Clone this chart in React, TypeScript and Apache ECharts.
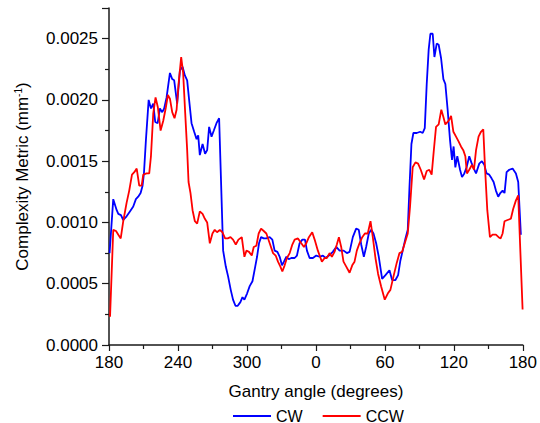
import React, { useEffect, useRef } from "react";
import * as echarts from "echarts";

// Gantry angle unwrapped: 180 -> 360 (=0) -> 540 (=180)
const xTickLabels = ["180", "240", "300", "0", "60", "120", "180"];
const seriesNames = ["CW", "CCW"];

const cwAngle = [
  180.5, 183.7, 186.7, 188.1, 190.4, 192.4, 195.3, 198.2, 201.1, 203.4, 205.4, 207.5, 209.2, 210.4, 212.1,
  214.5, 216.5, 218.5, 220.2, 222.3, 224.3, 226.3, 228.0, 230.1, 233.0, 235.0, 236.7, 239.3, 241.7, 244.0,
  246.0, 248.0, 249.7, 251.8, 254.1, 256.2, 257.6, 259.0, 261.4, 263.6, 265.4, 267.1, 269.2, 271.2, 273.5,
  275.8, 279.3, 281.6, 283.6, 285.9, 287.9, 290.0, 292.0, 294.3, 296.1, 297.8, 300.1, 302.4, 304.8, 307.0,
  308.8, 310.5, 312.3, 314.6, 316.9, 319.8, 322.1, 324.1, 326.5, 328.5, 330.5, 332.2, 334.3, 336.3, 338.6,
  341.5, 343.5, 345.8, 348.2, 350.5, 352.2, 354.5, 357.4, 360.3, 363.2, 366.1, 368.4, 371.3, 374.7, 377.7,
  380.6, 384.1, 386.9, 389.3, 392.1, 395.0, 397.3, 399.4, 401.7, 403.7, 406.0, 408.1, 410.1, 412.4, 414.7,
  417.6, 420.5, 424.0, 426.3, 429.2, 431.5, 433.5, 435.5, 437.9, 439.9, 441.4, 443.1, 444.8, 447.7, 450.7,
  452.9, 454.7, 456.4, 458.1, 459.6, 461.6, 463.1, 465.1, 466.8, 468.9, 470.9, 472.6, 474.6, 476.7, 478.4,
  479.8, 481.3, 483.0, 485.4, 487.1, 489.1, 491.1, 493.4, 495.2, 496.9, 499.3, 502.1, 504.4, 506.5, 508.5,
  510.8, 512.8, 514.6, 516.6, 518.6, 520.4, 522.4, 524.1, 525.9, 528.2, 531.1, 534.0, 536.0, 537.5, 538.3,
];
const cwValue = [
  0.00075, 0.00119, 0.0011, 0.00107, 0.00106, 0.00102, 0.00105, 0.00109, 0.00113, 0.00119, 0.00121, 0.00124, 0.0013, 0.0014, 0.00167,
  0.002, 0.00193, 0.00197, 0.00182, 0.00181, 0.00193, 0.0019, 0.00193, 0.00202, 0.00222, 0.00217, 0.00216, 0.00197, 0.00224, 0.00227,
  0.0022, 0.00216, 0.002, 0.00181, 0.00174, 0.00168, 0.00171, 0.00155, 0.00164, 0.00156, 0.00159, 0.00178, 0.0017, 0.00175, 0.00181,
  0.00185, 0.00077, 0.00064, 0.00056, 0.00045, 0.00037, 0.00032, 0.00032, 0.00035, 0.00039, 0.00037, 0.00042, 0.00048, 0.00052, 0.00063,
  0.00072, 0.00083, 0.00088, 0.00087, 0.00087, 0.00088, 0.00086, 0.00077, 0.00076, 0.00072, 0.00065, 0.00068, 0.00072, 0.0007, 0.00071,
  0.00071, 0.00073, 0.00083, 0.00086, 0.00086, 0.00077, 0.00071, 0.00071, 0.00073, 0.00072, 0.00073, 0.00071, 0.00073, 0.00076, 0.0008,
  0.00077, 0.00077, 0.00075, 0.00076, 0.00088, 0.00095, 0.00094, 0.00082, 0.00072, 0.0008, 0.00091, 0.00094, 0.00091, 0.00083, 0.00072,
  0.00054, 0.00057, 0.00061, 0.00053, 0.00053, 0.00057, 0.00069, 0.00077, 0.00087, 0.00094, 0.00129, 0.00164, 0.00173, 0.00173, 0.00174,
  0.00173, 0.00177, 0.00213, 0.00241, 0.00254, 0.00254, 0.00235, 0.00246, 0.00245, 0.00234, 0.00217, 0.00213, 0.00192, 0.00167, 0.00151,
  0.00162, 0.00145, 0.00154, 0.00143, 0.00137, 0.0014, 0.00145, 0.00154, 0.00149, 0.00145, 0.0014, 0.00148, 0.0015, 0.00147, 0.0014,
  0.00139, 0.00136, 0.00133, 0.00126, 0.00121, 0.00124, 0.00126, 0.00124, 0.00141, 0.00143, 0.00144, 0.0014, 0.00133, 0.00105, 0.0009,
];

const ccwAngle = [
  180.9, 183.7, 186.1, 188.1, 190.2, 192.4, 195.3, 197.6, 200.0, 202.0, 204.1, 206.3, 208.4, 209.8, 212.7,
  215.0, 216.5, 218.5, 220.5, 222.5, 224.9, 227.2, 229.5, 231.2, 233.0, 235.0, 237.0, 238.8, 240.5, 242.8,
  244.5, 246.3, 248.0, 249.2, 250.9, 252.7, 254.7, 256.7, 259.0, 261.4, 263.4, 265.4, 267.7, 270.0, 272.0,
  274.0, 276.4, 278.7, 281.0, 283.3, 285.7, 287.9, 290.3, 292.6, 295.5, 297.8, 299.6, 301.8, 304.2, 305.9,
  308.2, 310.2, 312.3, 314.6, 316.9, 319.8, 322.7, 325.0, 327.0, 329.1, 330.8, 332.8, 334.8, 337.2, 339.5,
  341.5, 344.4, 347.3, 349.6, 351.6, 353.9, 356.8, 358.9, 361.7, 365.2, 367.6, 369.5, 371.9, 373.9, 376.2,
  378.2, 380.0, 382.0, 384.0, 386.4, 389.3, 391.6, 393.6, 395.6, 397.9, 400.3, 402.6, 405.1, 407.5, 409.5,
  411.8, 414.1, 416.7, 419.9, 422.5, 424.8, 427.5, 430.3, 432.7, 435.0, 437.3, 439.9, 441.9, 444.2, 446.6,
  448.9, 451.2, 454.1, 456.4, 458.7, 460.7, 462.5, 464.5, 466.8, 469.1, 470.9, 472.6, 474.6, 476.1, 477.6,
  479.6, 481.9, 484.2, 486.2, 488.2, 490.0, 491.4, 493.4, 495.7, 497.5, 499.3, 501.5, 503.6, 505.6, 507.1,
  509.1, 511.4, 513.7, 516.6, 518.9, 520.7, 522.4, 524.1, 526.7, 529.6, 531.6, 534.0, 536.0, 539.8,
];
const ccwValue = [
  0.00023, 0.00094, 0.00093, 0.0009, 0.00087, 0.00101, 0.00116, 0.00126, 0.00139, 0.00141, 0.00144, 0.0013, 0.0013, 0.00139, 0.0014,
  0.0014, 0.00154, 0.00189, 0.00202, 0.00194, 0.00175, 0.00183, 0.00194, 0.00204, 0.00201, 0.0019, 0.00185, 0.00192, 0.00213, 0.00235,
  0.00222, 0.00189, 0.00159, 0.00133, 0.00124, 0.0011, 0.00101, 0.00099, 0.00109, 0.00107, 0.00103, 0.001, 0.00083, 0.00091, 0.00094,
  0.00092, 0.00094, 0.00092, 0.00087, 0.00087, 0.00088, 0.00086, 0.00082, 0.00086, 0.00088, 0.00072, 0.00077, 0.00076, 0.00073, 0.0008,
  0.00081, 0.00091, 0.00095, 0.00093, 0.00091, 0.00083, 0.00075, 0.00073, 0.00068, 0.00064, 0.0006, 0.00065, 0.00071, 0.00075, 0.00082,
  0.00086, 0.00087, 0.00083, 0.0008, 0.00083, 0.00088, 0.00092, 0.00086, 0.00077, 0.00068, 0.00071, 0.00071, 0.00075, 0.00072, 0.00076,
  0.00082, 0.00088, 0.0008, 0.00068, 0.00064, 0.00059, 0.00065, 0.00068, 0.00077, 0.00083, 0.00088, 0.00091, 0.00091, 0.00101, 0.00088,
  0.00071, 0.00058, 0.00048, 0.00037, 0.00042, 0.00045, 0.00056, 0.00067, 0.00075, 0.00076, 0.00083, 0.00091, 0.00113, 0.00145, 0.00149,
  0.00148, 0.00143, 0.00135, 0.00142, 0.00143, 0.00139, 0.00158, 0.00178, 0.0018, 0.00192, 0.00186, 0.0018, 0.00182, 0.00184, 0.00187,
  0.00174, 0.0017, 0.00166, 0.00162, 0.00159, 0.00154, 0.0014, 0.00143, 0.00147, 0.00143, 0.00159, 0.0017, 0.00174, 0.00176, 0.00145,
  0.0011, 0.00088, 0.0009, 0.0009, 0.00088, 0.00087, 0.00091, 0.00101, 0.00102, 0.00103, 0.00111, 0.00118, 0.00122, 0.00029,
];

const FONT = "'Liberation Sans', Arial, sans-serif";

export default function App() {
  const ref = useRef<HTMLDivElement>(null);
  useEffect(() => {
    if (!ref.current) return;
    const chart = echarts.init(ref.current, null, { renderer: "svg" });
    const cwData = cwAngle.map((a, i) => [a, cwValue[i]]);
    const ccwData = ccwAngle.map((a, i) => [a, ccwValue[i]]);
    const axisColor = "#1a1a1a";
    chart.setOption({
      animation: false,
      textStyle: { fontFamily: FONT },
      grid: { left: 109, right: 17, top: 8, bottom: 78 },
      legend: {
        data: seriesNames,
        left: 228,
        top: 403,
        icon: "rect",
        itemWidth: 38,
        itemHeight: 2,
        itemGap: 20,
        textStyle: { fontSize: 16, color: "#000", fontFamily: FONT },
      },
      xAxis: {
        type: "value",
        min: 180,
        max: 540,
        interval: 60,
        name: "Gantry angle (degrees)",
        nameLocation: "middle",
        nameGap: 38,
        nameTextStyle: { fontSize: 17, color: "#000", fontFamily: FONT },
        axisLine: { lineStyle: { color: axisColor, width: 1.5 } },
        axisTick: { show: true, length: 6, lineStyle: { color: axisColor, width: 1.2 } },
        minorTick: { show: true, splitNumber: 2, length: 4, lineStyle: { color: axisColor, width: 1.2 } },
        splitLine: { show: false },
        axisLabel: {
          fontSize: 17,
          color: "#000",
          margin: 9,
          fontFamily: FONT,
          formatter: (v: number) => xTickLabels[Math.round((v - 180) / 60)] ?? "",
        },
      },
      yAxis: {
        type: "value",
        min: 0,
        max: 0.00275,
        interval: 0.0005,
        name: "Complexity Metric (mm{sup|-1})",
        nameLocation: "middle",
        nameGap: 78,
        nameTextStyle: {
          fontSize: 17,
          color: "#000",
          fontFamily: FONT,
          rich: { sup: { fontSize: 10, verticalAlign: "top", color: "#000", fontFamily: FONT, padding: [0, 0, 8, 0] } },
        },
        axisLine: { show: true, lineStyle: { color: axisColor, width: 1.5 } },
        axisTick: { show: true, length: 7, lineStyle: { color: axisColor, width: 1.2 } },
        minorTick: { show: true, splitNumber: 2, length: 4, lineStyle: { color: axisColor, width: 1.2 } },
        splitLine: { show: false },
        axisLabel: {
          fontSize: 17,
          color: "#000",
          margin: 11,
          fontFamily: FONT,
          showMaxLabel: false,
          formatter: (v: number) => v.toFixed(4),
        },
      },
      series: [
        {
          name: seriesNames[0],
          type: "line",
          data: cwData,
          symbol: "none",
          lineStyle: { color: "#0000ff", width: 1.8 },
          itemStyle: { color: "#0000ff" },
        },
        {
          name: seriesNames[1],
          type: "line",
          data: ccwData,
          symbol: "none",
          lineStyle: { color: "#ff0000", width: 1.8 },
          itemStyle: { color: "#ff0000" },
        },
      ],
    });
    return () => chart.dispose();
  }, []);
  return <div ref={ref} style={{ width: 540, height: 423, position: "absolute", left: 0, top: 0 }} />;
}
